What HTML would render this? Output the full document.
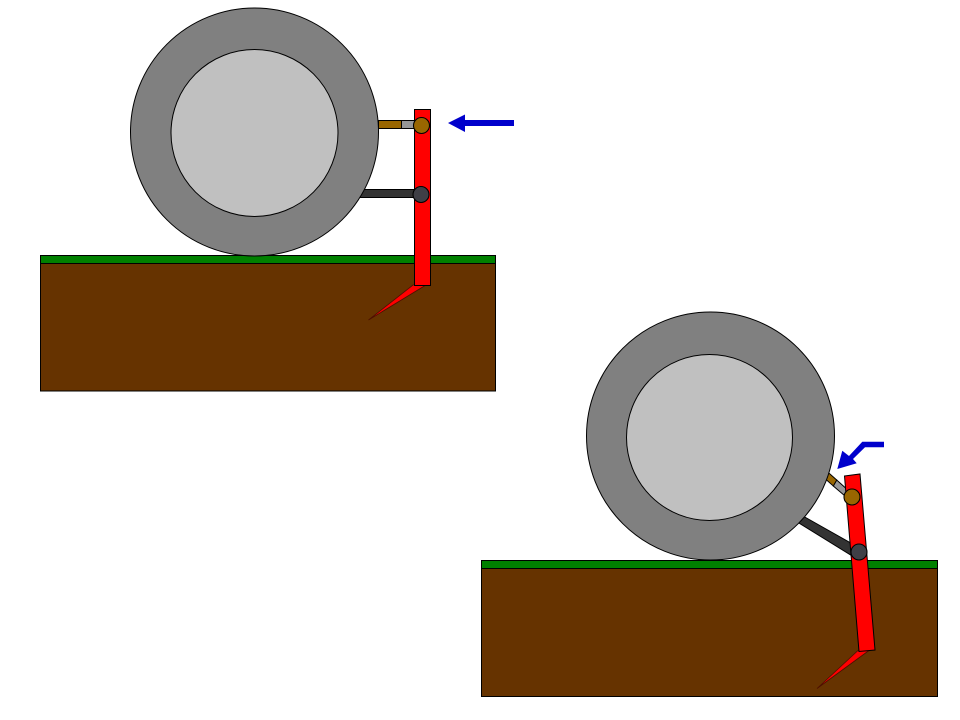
<!DOCTYPE html>
<html>
<head>
<meta charset="utf-8">
<style>
html,body{margin:0;padding:0;background:#fff;}
svg{display:block;}
</style>
</head>
<body>
<svg width="960" height="720" viewBox="0 0 960 720" xmlns="http://www.w3.org/2000/svg" stroke-linejoin="miter">
<rect x="0" y="0" width="960" height="720" fill="#fff"/>
<!-- Top scene -->
<rect x="40.5" y="263.5" width="455" height="127.5" fill="#663300" stroke="#000"/>
<rect x="40.5" y="255.5" width="455" height="8" fill="#008000" stroke="#000"/>
<polygon points="413,285 426,285 368.5,320" fill="#ff0000" stroke="#4d0f00" stroke-width="0.8"/>
<rect x="378.5" y="120.5" width="23" height="8" fill="#996600" stroke="#000"/>
<rect x="401.5" y="120.5" width="14" height="8" fill="#969696" stroke="#000"/>
<rect x="358.5" y="189.5" width="57" height="8" fill="#333333" stroke="#000"/>
<circle cx="254.5" cy="132" r="124" fill="#808080" stroke="#000"/>
<circle cx="254.5" cy="133" r="83.5" fill="#c0c0c0" stroke="#000"/>
<rect x="414.5" y="109.5" width="16" height="176" fill="#ff0000" stroke="#000"/>
<circle cx="421.5" cy="125.5" r="8" fill="#996600" stroke="#000" stroke-width="1.1"/>
<circle cx="421" cy="194.5" r="8" fill="#3f3f46" stroke="#000" stroke-width="1.1"/>
<polygon points="448,123 465,114.5 465,120 514,120 514,126 465,126 465,132" fill="#0000cc"/>
<!-- Bottom scene -->
<rect x="481.5" y="568.5" width="456" height="128" fill="#663300" stroke="#000"/>
<rect x="481.5" y="560.5" width="456" height="8" fill="#008000" stroke="#000"/>
<polygon points="858,650.5 869,650.5 817,688.5" fill="#ff0000" stroke="#4d0f00" stroke-width="0.8"/>
<polygon points="836.7,480 850,492 845,496 833.3,486" fill="#969696" stroke="#000"/>
<polygon points="824,468.7 836.7,480 833.3,486 821,475" fill="#996600" stroke="#000"/>
<polygon points="795,511.5 856,546 851.5,555.5 790,517.5" fill="#333333" stroke="#000"/>
<circle cx="710.5" cy="436" r="124" fill="#808080" stroke="#000"/>
<circle cx="709.5" cy="437.5" r="83" fill="#c0c0c0" stroke="#000"/>
<polygon points="844.5,476 860,474 875,650 859,651.5" fill="#ff0000" stroke="#000"/>
<circle cx="852" cy="497" r="8" fill="#996600" stroke="#000" stroke-width="1.1"/>
<circle cx="859" cy="552" r="8" fill="#3f3f46" stroke="#000" stroke-width="1.1"/>
<polygon points="837.3,469 842.3,450.7 849,456 862.3,441.7 884,441.7 884,447.3 865,447.3 853,459 856.7,463.3" fill="#0000cc"/>
</svg>
</body>
</html>
